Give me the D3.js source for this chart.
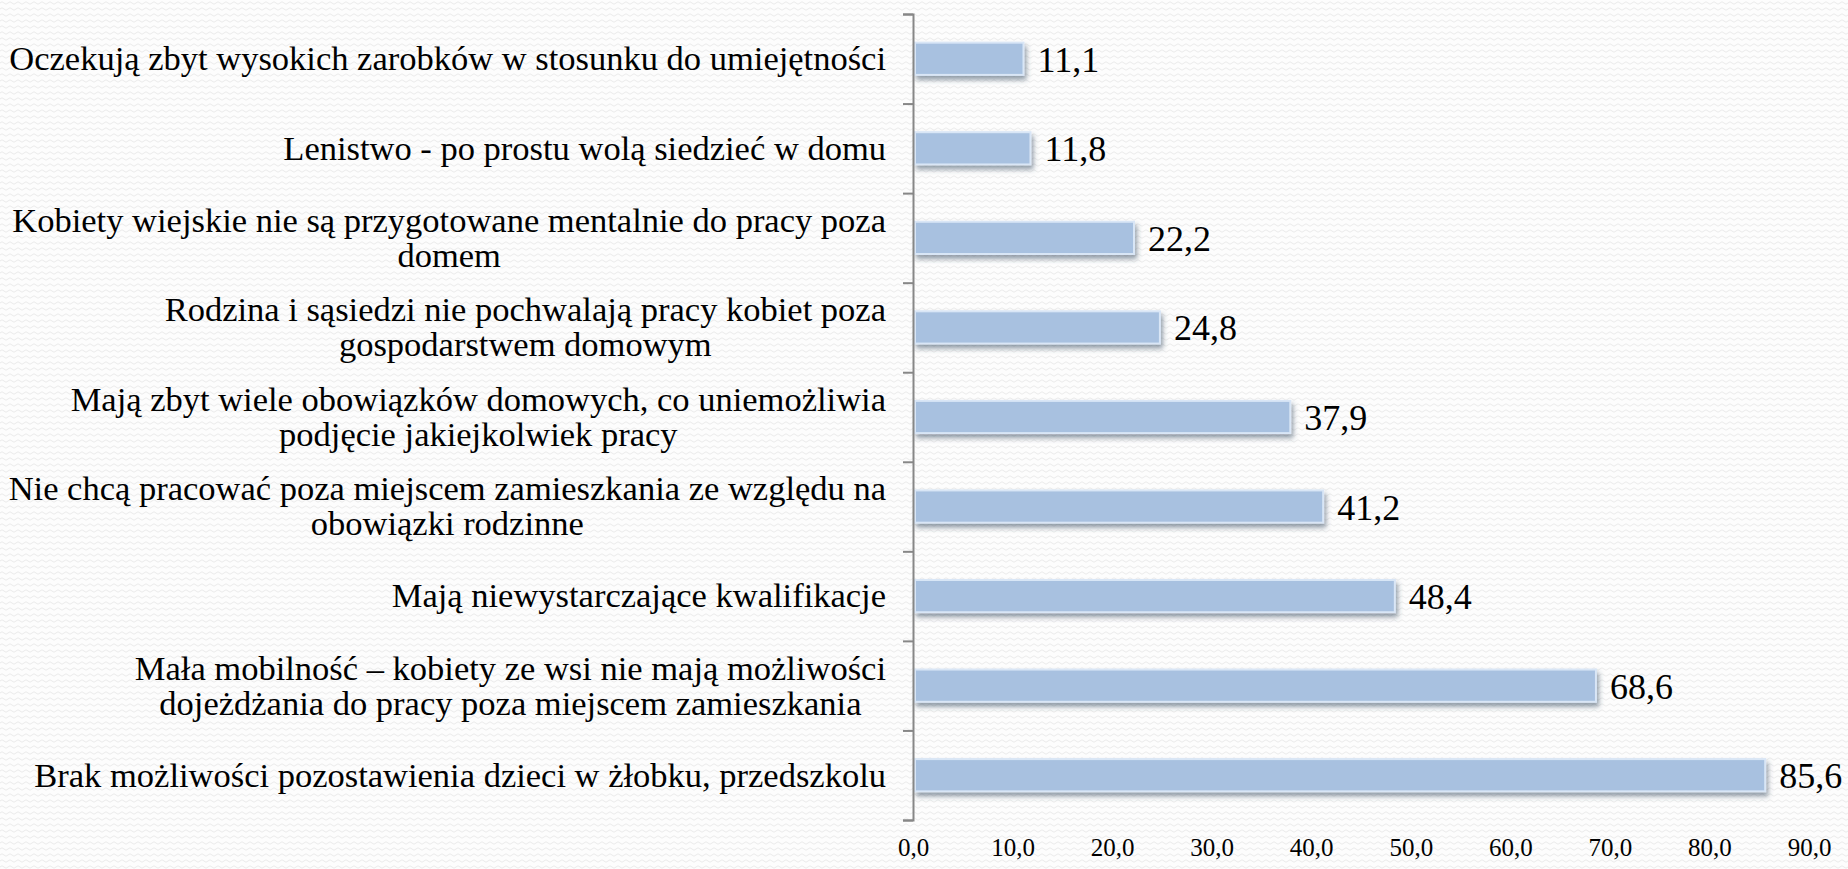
<html>
<head>
<meta charset="utf-8">
<title>Dlaczego kobiety wiejskie nie podejmują pracy</title>
<script src="https://d3js.org/d3.v7.min.js"></script>
<style>
body { margin: 0; background: #fcfcfc; font-family: 'Liberation Serif', 'Times New Roman', serif; }
.axis path, .axis line { stroke: #878787; }
.bar { fill: #a8c1e0; stroke: #d9e6f6; stroke-width: 2; }
</style>
</head>
<body>

<svg id="chart" width="1848" height="869"></svg>

<script>
// categories top to bottom, "\n" = line break as in the picture
var categories = [
    "Oczekują zbyt wysokich zarobków w stosunku do umiejętności",
    "Lenistwo - po prostu wolą siedzieć w domu",
    "Kobiety wiejskie nie są przygotowane mentalnie do pracy poza\ndomem",
    "Rodzina i sąsiedzi nie pochwalają pracy kobiet poza\ngospodarstwem domowym",
    "Mają zbyt wiele obowiązków domowych, co uniemożliwia\npodjęcie jakiejkolwiek pracy",
    "Nie chcą pracować poza miejscem zamieszkania ze względu na\nobowiązki rodzinne",
    "Mają niewystarczające kwalifikacje",
    "Mała mobilność – kobiety ze wsi nie mają możliwości\ndojeżdżania do pracy poza miejscem zamieszkania",
    "Brak możliwości pozostawienia dzieci w żłobku, przedszkolu"
];
var values = [11.1, 11.8, 22.2, 24.8, 37.9, 41.2, 48.4, 68.6, 85.6];
var xTicks = [0, 10, 20, 30, 40, 50, 60, 70, 80, 90];

var svg = d3.select("#chart");
var plLocale = d3.formatLocale({decimal: ",", thousands: " ", grouping: [3], currency: ["", " zł"]});
var fmt = plLocale.format(".1f");

var axisX = 913;      // x of the vertical axis
var plotTop = 14;
var plotBottom = 820;
var labelRight = 886; // right edge of category labels

var x = d3.scaleLinear()
    .domain([0, 90])
    .range([axisX, 1809]);

var y = d3.scaleBand()
    .domain(categories)
    .range([plotTop, plotBottom])
    .paddingInner(0.64)
    .paddingOuter(0.32);

// ---- background texture (faint wavy lines) ----
var defs = svg.append("defs");
var pattern = defs.append("pattern")
    .attr("id", "waves")
    .attr("patternUnits", "userSpaceOnUse")
    .attr("width", 8)
    .attr("height", 6);
pattern.append("rect")
    .attr("width", 8)
    .attr("height", 6)
    .style("fill", "#fdfdfd");
pattern.append("path")
    .attr("d", "M0,3 Q2,0.5 4,3 T8,3")
    .style("fill", "none")
    .style("stroke", "#ebebeb")
    .style("stroke-width", 1);

// bar shadow
var shadow = defs.append("filter")
    .attr("id", "barShadow")
    .attr("x", "-5%").attr("y", "-30%")
    .attr("width", "115%").attr("height", "180%");
shadow.append("feDropShadow")
    .attr("dx", 2)
    .attr("dy", 4)
    .attr("stdDeviation", 2.4)
    .attr("flood-color", "#3b4f63")
    .attr("flood-opacity", 0.55);

svg.append("rect")
    .attr("width", 1848)
    .attr("height", 869)
    .style("fill", "url(#waves)");

// ---- bars ----
svg.selectAll("rect.bar")
    .data(values)
    .enter().append("rect")
    .attr("class", "bar")
    .attr("x", x(0) + 2)
    .attr("y", function(d, i) { return y(categories[i]); })
    .attr("width", function(d) { return x(d) - x(0) - 2; })
    .attr("height", y.bandwidth())
    .attr("filter", "url(#barShadow)");

// ---- value labels ----
svg.selectAll("text.value")
    .data(values)
    .enter().append("text")
    .attr("class", "value")
    .attr("x", function(d) { return x(d) + 14; })
    .attr("y", function(d, i) { return y(categories[i]) + y.bandwidth() / 2; })
    .attr("dy", "0.36em")
    .style("font-size", "36px")
    .style("fill", "#000")
    .text(function(d) { return fmt(d); });

// ---- vertical axis: line with ticks at band boundaries ----
var boundary = d3.scaleLinear()
    .domain([0, categories.length])
    .range([plotTop, plotBottom]);

svg.append("g")
    .attr("class", "axis")
    .attr("transform", "translate(" + axisX + ",0)")
    .call(d3.axisLeft(boundary)
        .tickValues(d3.range(categories.length + 1))
        .tickSize(10)
        .tickSizeOuter(10)
        .tickFormat(""))
    .selectAll("path, line")
    .style("stroke-width", 2);

// ---- category labels (multi-line blocks centred, block right-aligned) ----
var lineH = 35;
categories.forEach(function(cat) {
    var lines = cat.split("\n");
    var cy = y(cat) + y.bandwidth() / 2;
    var t = svg.append("text")
        .attr("text-anchor", "end")
        .style("font-size", "34.5px")
        .style("fill", "#000");
    var spans = lines.map(function(line, k) {
        return t.append("tspan")
            .attr("y", cy + (k - (lines.length - 1) / 2) * lineH)
            .attr("dy", "0.33em")
            .text(line);
    });
    var widths = spans.map(function(s) { return s.node().getComputedTextLength(); });
    var maxW = d3.max(widths);
    spans.forEach(function(s, k) {
        s.attr("x", labelRight - (maxW - widths[k]) / 2);
    });
});

// ---- horizontal axis tick labels ----
var xAxis = svg.append("g")
    .attr("class", "axis")
    .attr("transform", "translate(0,830)")
    .call(d3.axisBottom(x)
        .tickValues(xTicks)
        .tickSize(0)
        .tickPadding(8)
        .tickFormat(fmt));
xAxis.select(".domain").remove();
xAxis.selectAll("text")
    .style("font-family", "'Liberation Serif', serif")
    .style("font-size", "25px")
    .style("fill", "#000");
</script>

</body>
</html>
